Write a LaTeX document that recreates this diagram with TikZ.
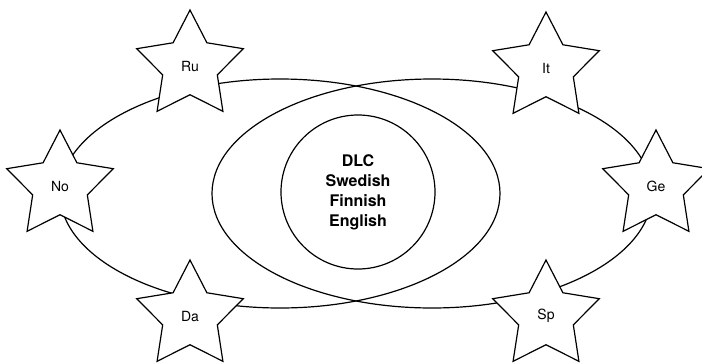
\documentclass[tikz,border=0pt]{standalone}
\usepackage{fontspec}
\setmainfont{TeX Gyre Heros}
\usetikzlibrary{shapes.geometric}

\tikzset{
  ring/.style={draw, line width=1.2pt, ellipse, minimum width=440pt, minimum height=229pt, inner sep=0pt},
  core/.style={draw, line width=1.2pt, circle, minimum size=154pt, inner sep=0pt, align=center, font=\bfseries\fontsize{16}{20}\selectfont},
  land/.style={draw, fill=white, line width=1.2pt, star, star points=5, star point ratio=1.95, minimum size=112pt, inner sep=0pt, font=\fontsize{14}{16}\selectfont}
}

\begin{document}
\begin{tikzpicture}[x=1pt,y=-1pt]
\useasboundingbox (0,0) rectangle (702,362);


\node[ring] (west) at (280,193.5) {};
\node[ring] (east) at (432,193.5) {};
\node[core] (dlc) at (358,192) {DLC\\Swedish\\Finnish\\English};


\foreach \lang/\x/\y in {Ru/190/66, It/546/68, No/60/186, Ge/656/186, Da/190/316, Sp/546/316}
   \node[land] (\lang) at (\x,\y) {\lang};

\end{tikzpicture}
\end{document}
